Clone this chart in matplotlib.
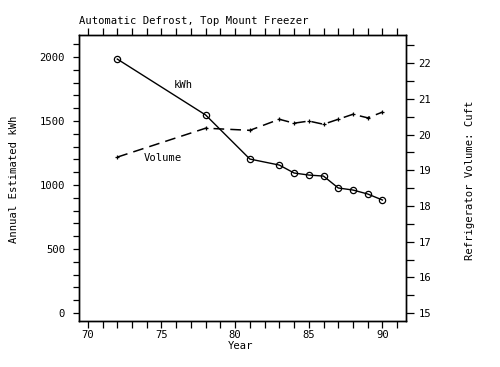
import numpy as np
from matplotlib import pyplot as plt
from matplotlib.ticker import MultipleLocator

# data
years = [72, 78, 81, 83, 84, 85, 86, 87, 88, 89, 90]
kwh = [1984, 1547, 1203, 1156, 1094, 1078, 1070, 977, 961, 930, 883]
volume = [19.37, 20.18, 20.12, 20.43, 20.32, 20.38, 20.29, 20.43, 20.57, 20.47, 20.63]

plt.rcParams['font.family'] = 'DejaVu Sans Mono'
plt.rcParams['font.size'] = 7.6

fig = plt.figure(figsize=(5, 3.67), dpi=100)
ax = fig.add_axes([79/500, 1-321/367, (406-79)/500, (321-35)/367])
ax2 = ax.twinx()

ax.plot(years, kwh, c="black", lw=1, marker="o", ms=4.5, mfc="none", mew=0.9)
ax2.plot(years, volume, c="black", lw=1.1, ls=(0, (7, 4)), marker="+", ms=3.5, mew=0.9)

ax.set_xlim(69.4, 91.6)
ax.set_ylim(-62, 2172)
ax2.set_ylim(14.78, 22.79)

ax.xaxis.set_major_locator(MultipleLocator(5))
ax.xaxis.set_minor_locator(MultipleLocator(1))
ax.yaxis.set_major_locator(MultipleLocator(500))
ax.yaxis.set_minor_locator(MultipleLocator(100))
ax2.yaxis.set_major_locator(MultipleLocator(1))
ax2.yaxis.set_minor_locator(MultipleLocator(0.5))

ax.tick_params(which="both", direction="out", top=True, labeltop=False, right=False, width=0.9)
ax.tick_params(axis="x", which="both", length=5, pad=1.5)
ax.tick_params(axis="y", which="both", length=4, pad=6)
ax2.tick_params(which="both", direction="out", length=6, width=0.9, pad=3)

for a in (ax, ax2):
    for s in a.spines.values():
        s.set_linewidth(1)

ax.text(75.8, 1781, "kWh", ha="left", va="center")
ax.text(73.8, 1211, "Volume", ha="left", va="center")

fig.text(79/500, 1-21.5/367, "Automatic Defrost, Top Mount Freezer", ha="left", va="center")
fig.text(241/500, 1-346/367, "Year", ha="center", va="center")
fig.text(14/500, 1-179/367, "Annual Estimated kWh", rotation=90, ha="center", va="center")
fig.text(470/500, 1-180/367, "Refrigerator Volume: Cuft", rotation=90, ha="center", va="center")

plt.savefig("out.png", dpi=100)
